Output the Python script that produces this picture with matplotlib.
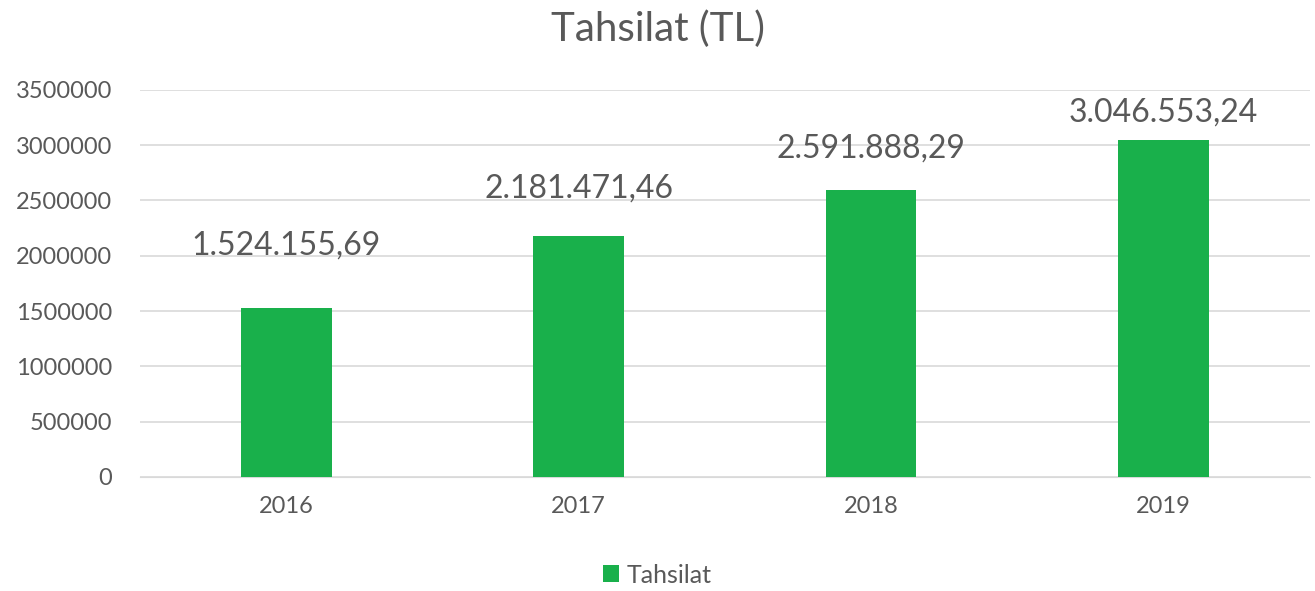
import matplotlib.pyplot as plt
from matplotlib.ticker import MultipleLocator, FuncFormatter

years = ['2016', '2017', '2018', '2019']
tahsilat = [1524155.69, 2181471.46, 2591888.29, 3046553.24]
labels = ['1.524.155,69', '2.181.471,46', '2.591.888,29', '3.046.553,24']
# label offsets above bar tops (data units), as placed in the original
label_gap = [570000, 430000, 380000, 250000]

plt.rcParams['font.family'] = ['Lato', 'DejaVu Sans']
grey = '#595959'
green = '#19B04B'

fig = plt.figure(figsize=(13.15, 5.91), dpi=100)
ax = fig.add_axes([0.1065, 0.193, 0.8895, 0.655])

x = range(len(years))
ax.bar(x, tahsilat, width=0.31, color=green, label='Tahsilat', zorder=3)

for i, v in enumerate(tahsilat):
    ax.text(i, v + label_gap[i], labels[i], ha='center', va='center',
            fontsize=23, color=grey)

ax.set_xlim(-0.5, len(years) - 0.5)
ax.set_ylim(0, 3500000)
ax.yaxis.set_major_locator(MultipleLocator(500000))
ax.yaxis.set_major_formatter(FuncFormatter(lambda v, p: '%d' % v))
ax.set_xticks(list(x))
ax.set_xticklabels(years)
ax.grid(axis='y', color='#D9D9D9', linewidth=1.2, zorder=0)
for s in ['top', 'right', 'left']:
    ax.spines[s].set_visible(False)
ax.spines['bottom'].set_color('#D9D9D9')
ax.tick_params(axis='both', length=0, labelsize=17, colors=grey)
ax.tick_params(axis='x', pad=14)
ax.tick_params(axis='y', pad=20)

fig.text(0.5, 0.95, 'Tahsilat (TL)', ha='center', va='center', fontsize=29, color=grey)
fig.legend(loc='center', bbox_to_anchor=(0.5, 0.027), frameon=False, fontsize=18,
           labelcolor=grey, handlelength=0.65, handleheight=0.65, handletextpad=0.3)

fig.savefig('out.png', dpi=100, facecolor='white')
